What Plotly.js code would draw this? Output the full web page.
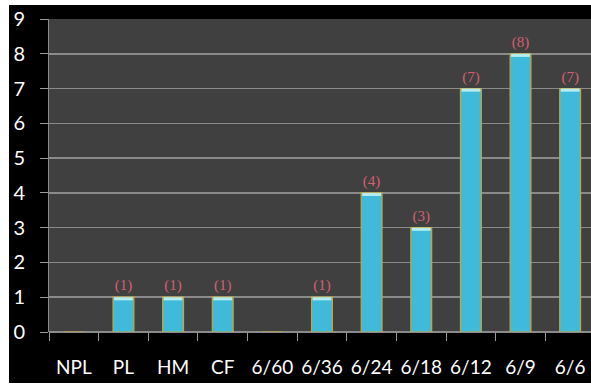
<!DOCTYPE html>
<html>
<head>
<meta charset="utf-8">
<script src="https://cdn.plot.ly/plotly-3.0.1.min.js"></script>
<style>
  html, body { margin: 0; padding: 0; background: #ffffff; overflow: hidden; }
  #chart { position: absolute; left: 9px; top: 5px; width: 582px; height: 378px; background: #000; }
</style>
</head>
<body>
<div id="chart"></div>
<script>
// Data
const categories = ["NPL", "PL", "HM", "CF", "6/60", "6/36", "6/24", "6/18", "6/12", "6/9", "6/6"];
const counts     = [0, 1, 1, 1, 0, 1, 4, 3, 7, 8, 7];
const labels     = counts.map(v => v > 0 ? "(" + v + ")" : "");

const capHeight = 0.09;

const mainBars = {
  type: "bar",
  x: categories,
  y: counts,
  width: 0.42,
  marker: { color: "#3fbadb", line: { color: "#c9a63a", width: 1.2 } },
  text: labels,
  textposition: "outside",
  textfont: { family: "Liberation Serif, serif", size: 15, color: "#d45f72" },
  cliponaxis: false,
  hoverinfo: "skip"
};

const capBars = {
  type: "bar",
  x: categories,
  y: counts.map(v => v > 0 ? capHeight : 0),
  base: counts.map(v => v - capHeight),
  width: 0.38,
  marker: { color: "#b4ecf0", line: { width: 0 } },
  hoverinfo: "skip"
};

const layout = {
  width: 582,
  height: 378,
  margin: { l: 40, r: 0, t: 14, b: 51 },
  paper_bgcolor: "#000000",
  plot_bgcolor: "#404040",
  showlegend: false,
  barmode: "overlay",
  font: { family: "Lato, sans-serif", color: "#ffffff" },
  xaxis: {
    type: "category",
    range: [-0.5, 10.42],
    tickson: "boundaries",
    ticks: "outside",
    ticklen: 8,
    tickcolor: "#9a9a9a",
    tickwidth: 1,
    tickangle: 0,
    showgrid: false,
    showline: false,
    zeroline: false,
    tickfont: { family: "Lato, sans-serif", size: 19, color: "#ffffff" },
    ticklabelstandoff: 22
  },
  yaxis: {
    range: [0, 9],
    dtick: 1,
    ticks: "outside",
    ticklen: 8,
    tickcolor: "#9a9a9a",
    showgrid: true,
    gridcolor: "#8a8a8a",
    gridwidth: 1.5,
    zeroline: true,
    zerolinecolor: "#8a8a8a",
    zerolinewidth: 1.5,
    showline: true,
    linecolor: "#8a8a8a",
    linewidth: 1,
    tickfont: { family: "Lato, sans-serif", size: 20, color: "#ffffff" },
    ticklabelstandoff: 11
  }
};

Plotly.newPlot("chart", [mainBars, capBars], layout, { displayModeBar: false, staticPlot: true });
</script>
</body>
</html>
